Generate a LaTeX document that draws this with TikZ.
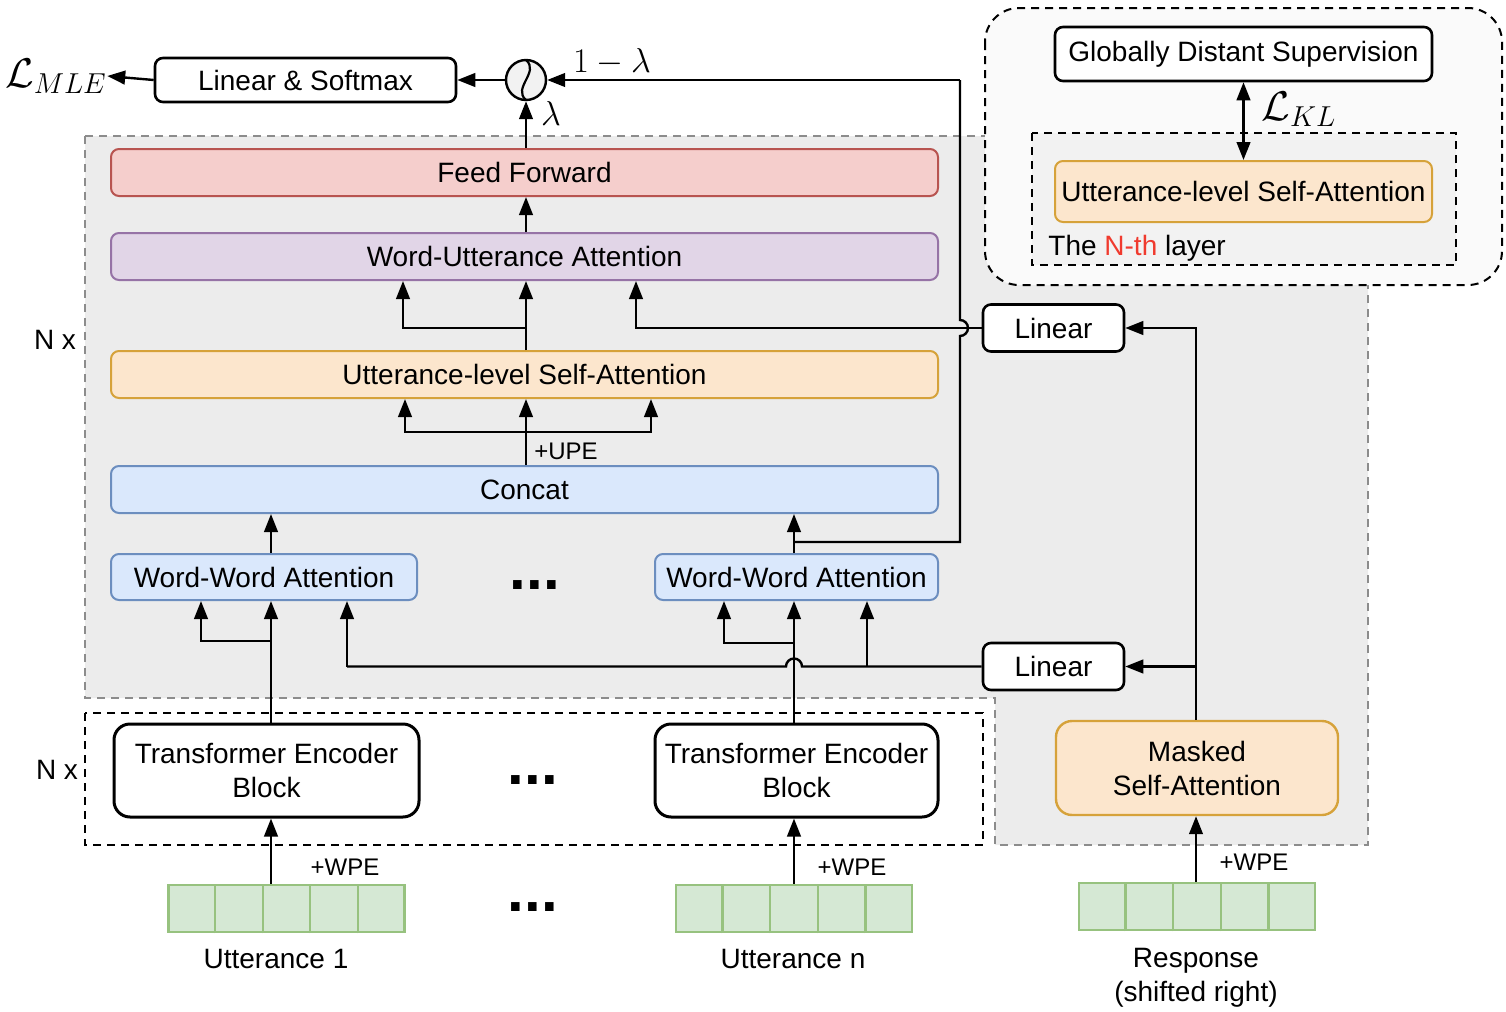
\documentclass[tikz,border=0pt]{standalone}
\usepackage{fontspec}
\setmainfont{Liberation Sans}
\usetikzlibrary{arrows.meta,calc}
\definecolor{bggray}{HTML}{ECECEC}
\definecolor{dashgray}{HTML}{8C8C8C}
\definecolor{rbfill}{HTML}{FAFAFA}
\definecolor{inbg}{HTML}{F2F2F2}
\definecolor{redfill}{HTML}{F5CECC}
\definecolor{redstroke}{HTML}{B85450}
\definecolor{purfill}{HTML}{E1D5E7}
\definecolor{purstroke}{HTML}{9673A6}
\definecolor{orafill}{HTML}{FCE6CD}
\definecolor{orastroke}{HTML}{D6A23A}
\definecolor{blufill}{HTML}{DAE8FC}
\definecolor{blustroke}{HTML}{6C8EBF}
\definecolor{grnfill}{HTML}{D5E8D4}
\definecolor{grnstroke}{HTML}{97C27F}
\definecolor{nthred}{HTML}{F03A2E}
\begin{document}
\begin{tikzpicture}[x=0.5pt,y=-0.5pt,
  font=\fontsize{14}{17}\selectfont,
  conn/.style={line width=1.2pt},
  arr/.style={line width=1.2pt,-{Triangle[length=9pt,width=6.8pt]}},
  dblarr/.style={line width=1.2pt,{Triangle[length=9pt,width=6.8pt]}-{Triangle[length=9pt,width=6.8pt]}},
  wbox/.style={draw,line width=1.3pt,rounded corners=4pt,fill=white,inner sep=0pt,align=center},
  tebox/.style={draw,line width=1.5pt,rounded corners=8pt,fill=white,inner sep=0pt,align=center,minimum height=46.5pt},
  cbox/.style={draw,line width=1pt,rounded corners=4pt,inner sep=0pt,align=center},
  widebox/.style={cbox,minimum width=413.5pt,minimum height=23.5pt},
  redbox/.style={widebox,fill=redfill,draw=redstroke},
  purbox/.style={widebox,fill=purfill,draw=purstroke},
  orabox/.style={cbox,fill=orafill,draw=orastroke},
  blubox/.style={cbox,fill=blufill,draw=blustroke},
  embrow/.style={draw=grnstroke,fill=grnfill,line width=1.3pt,inner sep=0pt,minimum width=118pt,minimum height=23.5pt},
  graydash/.style={draw=dashgray,line width=1pt,dash pattern=on 4pt off 3pt},
  blackdash/.style={draw=black,line width=1pt,dash pattern=on 4pt off 3pt},
  dots/.style={font=\fontsize{30}{30}\selectfont\bfseries,inner sep=0pt},
  lbl/.style={inner sep=0pt},
  small/.style={font=\fontsize{12}{14}\selectfont,inner sep=0pt}
]
\useasboundingbox (0,0) rectangle (1506,1012);

% backgrounds
\fill[bggray] (85,136) -- (1368,136) -- (1368,845) -- (995,845) -- (995,698) -- (85,698) -- cycle;
\draw[graydash] (85,136) -- (1368,136) -- (1368,845) -- (995,845) -- (995,698) -- (85,698) -- cycle;
\draw[blackdash] (85,713) rectangle (983,845);
\draw[blackdash,fill=rbfill,rounded corners=17pt] (985,8) rectangle (1502,285);
\draw[blackdash,fill=inbg] (1032,133) rectangle (1456,265);

% x positions
\coordinate (x201) at (201,0);
\coordinate (x271) at (271,0);
\coordinate (x347) at (347,0);
\coordinate (x403) at (403,0);
\coordinate (x405) at (405,0);
\coordinate (x526) at (526,0);
\coordinate (x636) at (636,0);
\coordinate (x651) at (651,0);
\coordinate (x724) at (724,0);
\coordinate (x794) at (794,0);
\coordinate (x867) at (867,0);
\coordinate (x1196) at (1196,0);

% top row
\node[lbl,font=\fontsize{20}{24}\selectfont] (lmle) at (56,76) {$\mathcal{L}_{MLE}$};
\node[wbox,minimum width=150.5pt,minimum height=22pt] (ls) at (305.5,80) {Linear \& Softmax};
\node[draw,circle,line width=1.2pt,fill=inbg,minimum size=20pt,inner sep=0pt] (mix) at (526,80) {};
\draw[line width=1.1pt] (526,60) .. controls (540,72) and (512,88) .. (526,100);
\node[lbl,font=\fontsize{17}{20}\selectfont] (oml) at (612,62) {$1-\lambda$};
\node[lbl,font=\fontsize{17}{20}\selectfont] (lam) at (551,113) {$\lambda$};

% decoder stack
\node[redbox] (ff) at (524.5,172.5) {Feed Forward};
\node[purbox] (wua) at (524.5,256.5) {Word-Utterance Attention};
\node[orabox,minimum width=413.5pt,minimum height=23.5pt] (usa) at (524.5,374.5) {Utterance-level Self-Attention};
\node[blubox,minimum width=413.5pt,minimum height=23.5pt] (concat) at (524.5,489.5) {Concat};
\node[blubox,minimum width=153pt,minimum height=23pt] (wwa1) at (264,577) {Word-Word Attention};
\node[blubox,minimum width=141.5pt,minimum height=23pt] (wwa2) at (796.5,577) {Word-Word Attention};
\node[dots] (d1) at (535,585) {...};
\node[lbl] (nx1) at (55,340) {N x};

% linear boxes
\node[wbox,minimum width=70.5pt,minimum height=23.5pt] (lin1) at (1053.5,328) {Linear};
\node[wbox,minimum width=70.5pt,minimum height=23.5pt] (lin2) at (1053.5,666.5) {Linear};

% encoders
\node[tebox,minimum width=152.5pt] (teb1) at (266.5,770.5) {Transformer Encoder\\Block};
\node[tebox,minimum width=141.5pt] (teb2) at (796.5,770.5) {Transformer Encoder\\Block};
\node[dots] (d2) at (533,780) {...};
\node[lbl] (nx2) at (57,770) {N x};
\node[orabox,rounded corners=8pt,minimum width=141pt,minimum height=47pt,line width=1.2pt] (msa) at (1197,768) {Masked\\Self-Attention};

% embeddings
\node[embrow] (emb1) at (286.5,908.5) {};
\node[embrow] (embn) at (794,908.5) {};
\node[embrow] (embr) at (1197,906.5) {};
\foreach \e in {emb1,embn,embr}{
  \foreach \i in {1,2,3,4}{
    \draw[draw=grnstroke,line width=1.1pt] ($(\e.south west)!\i/5!(\e.south east)$) -- ($(\e.north west)!\i/5!(\e.north east)$);
  }
}
\node[dots] (d3) at (533,907) {...};
\node[lbl] (u1) at (276,959) {Utterance 1};
\node[lbl] (un) at (793,959) {Utterance n};
\node[lbl,align=center] (resp) at (1196,978) {Response\\(shifted right)};
\node[small] (wpe1) at (345,867) {+WPE};
\node[small] (wpe2) at (852,867) {+WPE};
\node[small] (wpe3) at (1254,862) {+WPE};
\node[small] (upe) at (566,451) {+UPE};

% top-right box
\node[wbox,minimum width=188.5pt,minimum height=27pt] (gds) at (1243.5,54) {Globally Distant Supervision};
\node[orabox,minimum width=188.5pt,minimum height=30.5pt] (usa2) at (1243.5,191.5) {Utterance-level Self-Attention};
\node[lbl,anchor=west] (nth) at (1048,248) {The \textcolor{nthred}{N-th} layer};
\node[lbl,font=\fontsize{20}{24}\selectfont] (lkl) at (1299,109) {$\mathcal{L}_{KL}$};
\draw[dblarr] (gds.south) -- (usa2.north);

% connectors: bottom
\draw[arr] (x271 |- emb1.north) -- (x271 |- teb1.south);
\draw[arr] (x794 |- embn.north) -- (x794 |- teb2.south);
\draw[arr] (x1196 |- embr.north) -- (x1196 |- msa.south);

% encoder -> word-word attention
\coordinate (j1) at (271,641);
\coordinate (j2) at (794,643);
\draw[arr] (x271 |- teb1.north) -- (x271 |- wwa1.south);
\draw[arr] (j1) -| (x201 |- wwa1.south);
\draw[arr] (x794 |- teb2.north) -- (x794 |- wwa2.south);
\draw[arr] (j2) -| (x724 |- wwa2.south);

% response path
\coordinate (j3) at (1196,666.5);
\draw[arr] (x1196 |- msa.north) |- (lin1.east);
\draw[arr] (j3) -- (lin2.east);

% lower linear -> word-word attentions (hop over x=794)
\coordinate (j4) at (867,666.5);
\draw[conn] (lin2.west) -- (802,666.5) arc[start angle=0,end angle=180,radius=4pt] -- (347,666.5);
\draw[arr] (347,666.5) -- (x347 |- wwa1.south);
\draw[arr] (j4) -- (x867 |- wwa2.south);

% word-word -> concat
\draw[arr] (x271 |- wwa1.north) -- (x271 |- concat.south);
\draw[arr] (x794 |- wwa2.north) -- (x794 |- concat.south);

% mixing path with hop
\coordinate (j5) at (794,542);
\draw[conn] (j5) -- (960,542) -- (960,336) arc[start angle=-90,end angle=90,radius=4pt] -- (960,80);
\draw[arr] (960,80) -- (mix.east);

% concat -> utterance-level SA
\coordinate (j6) at (526,432);
\draw[arr] (x526 |- concat.north) -- (x526 |- usa.south);
\draw[arr] (j6) -| (x405 |- usa.south);
\draw[arr] (j6) -| (x651 |- usa.south);

% utterance-level SA -> word-utterance attention
\coordinate (j7) at (526,328);
\draw[arr] (x526 |- usa.north) -- (x526 |- wua.south);
\draw[arr] (j7) -| (x403 |- wua.south);
\draw[arr] (lin1.west) -| (x636 |- wua.south);

% up the stack
\draw[arr] (x526 |- wua.north) -- (x526 |- ff.south);
\draw[arr] (x526 |- ff.north) -- (mix.south);
\draw[arr] (mix.west) -- (ls.east);
\draw[arr] (ls.west) -- (lmle.east);
\end{tikzpicture}
\end{document}
